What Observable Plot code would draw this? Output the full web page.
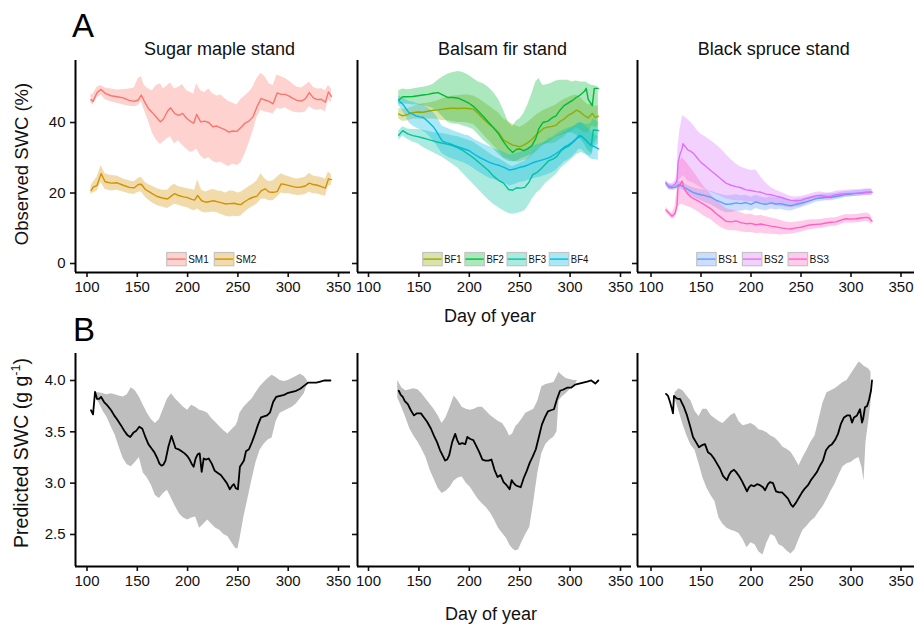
<!DOCTYPE html>
<html><head><meta charset="utf-8">
<script src="https://cdn.jsdelivr.net/npm/d3@7"></script>
<script src="https://cdn.jsdelivr.net/npm/@observablehq/plot@0.6"></script>
<style>
html,body{margin:0;padding:0;background:#fff;}
#chart{position:relative;width:918px;height:627px;overflow:hidden;background:#fff;}
#chart > svg{position:absolute;}
</style></head><body><div id="chart"></div>
<script>
// ---------- tick labels & text ----------
const xTicks = [100, 150, 200, 250, 300, 350];
const topYTicks = [0, 20, 40];
const botYTicks = [2.5, 3.0, 3.5, 4.0];
const standTitles = ["Sugar maple stand", "Balsam fir stand", "Black spruce stand"];
const seriesColor = {SM1:"#F8766D", SM2:"#D39200", BF1:"#93AA00", BF2:"#00BA38", BF3:"#00C19F", BF4:"#00B9E3", BS1:"#619CFF", BS2:"#DB72FB", BS3:"#FF61C3"};

// ---------- Observed SWC (%) ----------
const sm1Day = [104,106,110,114,118,124,130,136,142,147,151,154,157,161,165,169,173,176,180,183,187,191,195,199,203,206,209,213,217,221,225,229,233,237,241,245,249,253,257,261,265,269,273,277,281,285,289,293,297,301,305,309,313,317,321,325,329,333,337,340,343];
const sm1Mean = [46.5,46.0,48.5,49.4,48.3,47.6,47.3,47.0,46.3,46.0,46.4,47.8,46.0,44.0,42.8,41.5,40.2,41.0,43.2,44.2,42.6,42.0,42.6,41.2,40.3,39.8,42.3,40.2,40.4,40.0,38.8,39.0,38.5,38.0,37.3,37.6,37.5,38.6,39.8,40.4,41.6,44.5,46.8,46.4,46.0,45.3,48.4,48.0,48.0,47.5,46.8,46.3,46.1,46.7,48.5,47.0,46.5,46.6,45.8,48.7,47.4];
const sm1Hi = [48.0,48.0,50.0,50.5,49.8,49.5,49.2,49.3,49.5,49.8,52.5,53.0,50.5,49.5,49.0,50.5,51.0,49.5,50.5,51.2,49.5,50.0,50.8,49.0,48.5,48.0,51.0,49.0,48.5,49.5,48.2,47.5,47.8,46.8,46.0,45.5,45.0,46.5,47.5,48.5,50.0,52.5,54.0,53.0,51.0,50.5,53.5,53.0,52.5,51.8,50.8,50.0,49.8,50.5,51.5,50.0,49.5,49.6,49.0,50.5,49.5];
const sm1Lo = [45.5,45.0,47.0,47.8,46.5,45.8,45.5,45.0,44.6,44.5,44.8,46.0,43.5,40.5,37.0,35.0,33.8,34.5,35.5,36.0,34.0,34.8,33.5,32.5,31.5,31.8,32.5,30.5,29.5,30.0,29.0,28.5,28.8,28.0,27.5,28.2,27.8,28.5,31.0,34.0,37.5,41.5,43.5,43.0,42.8,42.5,44.0,43.8,44.2,43.5,43.0,42.8,42.8,43.0,44.5,43.8,43.5,43.7,43.0,46.5,45.5];

const sm2Day = [104,106,110,114,118,124,130,136,142,147,151,154,158,162,166,170,175,180,184,187,191,196,200,204,207,210,214,218,222,226,230,234,238,242,246,250,253,257,261,265,269,273,277,281,285,289,293,297,301,305,309,313,317,321,325,329,333,337,340,343];
const sm2Mean = [20.7,21.6,22.2,25.5,23.2,22.8,22.9,22.2,21.6,21.5,22.4,22.5,21.0,20.3,19.6,19.0,18.6,18.3,19.2,19.8,19.3,18.9,18.7,18.2,18.0,19.3,17.8,17.4,17.6,17.8,17.5,17.2,16.9,17.0,17.1,16.8,16.7,17.6,18.3,18.8,19.1,20.6,21.2,20.3,20.2,20.4,22.6,22.4,22.1,21.8,21.6,21.7,22.0,22.8,22.4,22.2,21.8,21.4,24.0,23.8];
const sm2Hi = [22.0,23.0,24.5,27.8,25.5,25.0,24.8,24.0,23.5,23.2,24.2,24.5,23.0,22.3,21.8,21.2,20.8,20.8,22.0,22.5,21.8,21.5,21.2,21.0,20.8,23.8,20.8,20.3,20.8,21.0,20.6,20.4,20.0,20.6,20.5,20.0,20.2,21.0,21.8,22.5,23.5,25.5,24.0,23.2,23.5,24.5,25.5,25.0,24.6,24.2,24.0,24.2,24.5,25.6,24.8,24.6,24.4,24.0,26.0,25.2];
const sm2Lo = [19.5,20.0,20.5,23.0,21.0,20.6,20.8,20.3,19.8,19.6,20.2,20.3,18.8,17.8,17.0,16.4,16.0,15.6,16.3,16.8,16.5,16.0,15.8,15.2,15.0,15.5,14.6,14.3,14.5,14.6,14.3,13.8,13.4,13.2,13.4,13.3,13.5,14.6,15.5,16.2,16.8,18.2,18.3,17.8,17.8,18.8,20.0,19.8,19.8,19.5,19.3,19.4,19.6,20.2,19.8,19.7,19.4,19.0,22.0,22.2];

const bf1Day = [130,134,139,144,149,154,159,164,169,174,179,184,189,194,199,204,209,214,219,224,229,234,239,243,247,250,254,258,262,266,270,274,278,282,286,290,294,298,302,306,310,314,318,322,325,328];
const bf1Mean = [42.4,41.9,42.3,42.8,43.0,42.9,43.2,43.5,43.6,43.8,44.0,44.1,44.0,44.1,44.0,43.8,42.5,41.0,39.7,38.5,37.2,35.0,34.2,33.6,33.4,33.1,33.6,34.3,35.2,36.4,37.4,38.4,38.7,38.9,39.2,40.3,41.0,42.0,42.6,43.5,43.0,42.0,41.3,42.6,41.4,41.8];
const bf1Hi = [44.0,43.8,44.0,44.5,45.0,45.3,45.5,45.8,46.2,46.8,47.2,47.5,47.6,47.8,47.8,47.5,46.8,45.8,44.8,43.8,42.8,41.0,40.2,39.5,39.0,38.6,39.2,40.0,41.0,42.0,42.8,43.5,44.0,44.5,45.0,45.8,46.5,47.0,47.5,47.8,47.2,46.0,45.0,45.5,44.5,44.8];
const bf1Lo = [41.0,40.3,40.5,41.0,41.0,40.8,41.0,41.0,40.8,40.5,40.5,40.2,40.0,40.0,39.8,39.5,38.2,36.5,35.0,33.5,32.0,30.0,29.5,29.0,28.8,28.8,29.2,29.5,30.5,31.5,32.5,33.8,34.0,34.0,34.3,35.2,35.8,37.0,37.6,38.5,38.0,37.2,37.0,39.0,38.5,39.0];

const bf2Day = [130,134,139,144,149,154,159,164,169,174,179,184,189,194,199,204,209,214,219,224,229,234,239,243,247,250,254,258,262,266,269,273,278,282,286,290,294,298,302,306,310,314,316,318,322,324,328];
const bf2Mean = [46.4,47.3,47.3,47.4,47.6,47.8,48.0,48.3,48.5,47.8,47.1,47.1,46.9,46.3,45.6,44.6,43.2,41.7,40.1,38.5,36.8,34.5,32.6,31.5,32.4,32.5,32.0,32.6,33.4,35.5,38.3,40.0,40.4,41.3,41.9,43.5,44.8,45.5,46.2,47.1,47.8,48.8,49.7,46.6,44.8,49.7,49.7];
const bf2Hi = [49.0,49.5,49.3,49.5,49.8,50.0,50.3,50.8,52.0,53.0,53.8,54.2,54.5,54.2,53.5,52.5,51.5,51.0,50.0,48.5,46.5,43.5,40.0,38.8,40.5,41.0,42.5,45.0,48.0,51.5,52.5,50.5,50.8,51.2,51.8,52.0,52.0,52.0,51.5,51.8,51.5,51.5,51.4,51.0,50.5,50.5,50.0];
const bf2Lo = [45.0,45.3,45.2,45.0,45.0,44.8,44.5,44.0,43.0,41.5,40.0,39.6,39.5,39.0,38.6,38.0,36.5,35.0,33.8,32.5,31.0,29.8,29.0,28.8,29.0,29.5,30.0,30.5,31.0,32.0,33.0,33.5,34.2,35.0,35.8,36.2,36.6,37.0,37.0,36.5,35.5,34.0,33.0,32.0,31.0,34.0,36.0];

const bf3Day = [130,134,139,144,149,154,159,164,169,174,179,184,189,194,199,204,209,214,219,224,229,234,239,243,247,251,255,259,263,267,271,275,279,283,287,291,295,299,303,307,311,315,319,321,323,326,328];
const bf3Mean = [36.4,37.7,36.8,36.3,36.0,35.6,35.2,34.8,34.4,34.1,33.8,33.4,32.8,32.0,31.0,30.0,28.8,27.6,26.4,24.8,23.6,22.8,21.0,20.8,21.5,21.4,21.6,23.0,25.2,25.8,26.8,28.0,29.2,29.6,30.4,32.0,32.8,33.4,34.4,35.6,36.2,35.2,34.0,33.4,37.9,37.8,37.7];
const bf3Hi = [37.5,38.8,38.2,38.0,38.0,37.8,37.5,37.2,37.0,36.8,36.5,36.2,36.0,35.5,35.0,34.5,33.5,32.5,31.5,30.5,29.8,29.0,28.0,27.5,28.0,28.5,29.0,30.0,31.5,32.5,33.5,34.5,35.5,36.0,36.8,37.5,38.0,38.5,38.8,39.5,40.0,39.5,39.5,40.0,41.0,40.5,40.0];
const bf3Lo = [35.0,36.2,35.2,34.5,34.0,33.0,32.2,31.5,30.8,30.0,29.0,28.0,27.0,25.5,24.0,22.5,21.0,19.5,18.0,16.8,15.8,15.0,14.2,14.0,14.2,14.5,15.0,16.5,18.5,20.0,21.0,22.5,23.5,24.5,25.5,27.0,28.0,29.0,30.0,31.0,31.5,31.0,30.5,30.5,33.0,33.5,34.0];

const bf4Day = [130,134,137,140,144,147,151,154,157,160,164,167,170,173,177,180,185,190,195,200,205,210,215,220,225,230,235,240,245,250,255,260,265,270,275,280,285,290,294,298,302,306,309,312,316,319,322,325,328];
const bf4Mean = [46.2,45.2,44.0,42.9,42.4,41.9,41.6,41.5,40.8,40.0,38.9,37.7,36.2,34.8,34.3,34.1,33.5,33.0,32.5,32.0,31.0,30.1,29.4,28.7,28.2,27.8,27.2,26.5,26.8,27.3,27.6,28.2,28.8,29.2,29.6,30.1,31.0,32.0,33.0,33.6,34.4,35.4,36.3,36.0,34.8,34.0,33.4,33.0,32.5];
const bf4Hi = [47.5,47.0,46.5,46.0,45.8,45.5,45.2,45.0,44.5,44.0,43.0,42.0,40.5,39.0,38.5,38.2,37.5,37.0,36.5,36.2,35.2,34.5,33.8,33.2,32.5,32.0,31.5,30.8,31.0,31.5,32.0,32.8,33.5,34.0,34.5,35.0,35.8,36.5,37.2,37.8,38.6,39.4,40.0,39.8,38.8,38.0,37.2,36.5,35.8];
const bf4Lo = [44.8,43.2,41.8,40.0,39.0,38.5,38.0,37.5,37.0,36.2,35.0,33.8,32.5,31.2,30.5,30.0,29.5,29.0,28.5,27.8,26.8,25.8,25.0,24.2,23.8,23.2,22.8,22.0,22.4,23.0,23.2,23.8,24.2,24.5,25.0,25.5,26.2,27.5,28.8,29.4,30.2,31.4,32.5,32.2,31.0,30.0,29.5,29.5,29.2];

const bs1Day = [115,118,121,124,128,131,134,138,142,146,150,155,160,165,170,175,180,185,190,195,200,205,210,215,220,225,230,235,240,245,250,255,260,265,270,275,280,285,290,295,300,305,310,315,321];
const bs1Mean = [22.8,21.6,21.5,21.6,22.4,22.0,21.5,20.8,20.2,19.8,19.5,19.2,18.8,18.0,17.4,16.8,16.9,17.2,17.0,17.3,16.8,17.5,17.0,16.8,17.2,16.9,17.0,16.6,16.4,16.8,17.1,17.5,17.9,18.4,18.6,18.8,18.8,19.0,19.3,19.6,19.7,19.9,20.0,20.2,20.2];
const bs1Hi = [23.5,22.5,22.3,22.5,23.3,23.0,22.6,22.0,21.5,21.2,21.0,20.8,20.5,20.0,19.6,19.2,19.3,19.5,19.2,19.4,18.8,19.4,18.9,18.6,18.9,18.6,18.6,18.2,17.9,18.2,18.4,18.7,19.0,19.4,19.6,19.8,19.8,19.9,20.2,20.4,20.5,20.7,20.8,21.0,21.0];
const bs1Lo = [22.0,20.8,20.7,20.8,21.5,21.0,20.4,19.6,18.8,18.3,17.8,17.2,16.6,15.8,15.0,14.4,14.4,14.8,14.8,15.2,14.8,15.6,15.2,15.0,15.5,15.2,15.4,15.0,14.9,15.4,15.8,16.3,16.8,17.4,17.6,17.8,17.8,18.1,18.4,18.8,18.9,19.1,19.2,19.4,19.4];

const bs2Day = [115,118,121,124,126,127,129,131,132,134,137,140,143,146,150,155,160,165,170,175,180,185,190,195,200,205,210,215,220,225,230,235,240,245,250,255,260,265,270,275,280,285,290,295,300,305,310,315,321];
const bs2Mean = [22.8,22.0,21.8,22.5,23.5,28.5,31.0,32.5,34.0,33.2,32.2,31.8,31.1,30.0,28.7,27.5,26.3,25.2,24.0,22.8,22.2,21.8,21.5,20.9,20.7,20.4,20.2,19.7,19.5,19.1,18.8,18.3,17.9,17.8,17.9,18.4,18.8,19.2,19.3,19.0,19.1,19.5,19.7,19.8,19.9,19.9,20.0,20.1,20.2];
const bs2Hi = [23.5,22.8,22.6,23.5,25.0,33.0,38.0,41.0,42.0,41.5,40.8,40.0,39.0,37.8,36.7,35.8,34.8,33.8,32.5,31.0,29.5,28.2,27.3,26.8,26.4,26.5,24.5,22.8,21.6,20.8,20.2,19.6,19.0,18.9,19.0,19.4,19.8,20.2,20.3,20.0,20.1,20.5,20.7,20.8,20.9,20.9,21.0,21.2,21.2];
const bs2Lo = [22.0,21.2,21.0,21.5,22.0,23.0,24.0,24.5,25.0,24.5,23.5,23.0,22.8,22.2,21.5,20.8,20.2,19.6,19.0,18.4,18.0,17.8,17.8,17.6,17.5,17.2,17.0,16.8,16.7,16.4,16.2,16.0,15.9,16.0,16.2,16.9,17.5,18.0,18.2,18.0,18.1,18.6,18.8,18.9,19.0,19.0,19.1,19.2,19.3];

const bs3Day = [115,118,121,124,126,127,129,131,133,136,140,144,148,152,156,160,165,170,175,180,185,190,195,200,205,210,215,220,225,230,235,240,245,250,255,260,265,270,275,280,285,290,295,300,305,310,315,318,321];
const bs3Mean = [15.2,14.3,13.4,14.2,16.5,21.5,22.4,23.4,21.4,20.0,18.8,18.2,17.6,16.9,16.2,15.5,14.2,13.1,12.0,11.8,12.1,11.6,11.3,11.4,11.0,11.2,10.9,10.6,10.4,10.1,9.9,9.8,10.1,10.3,10.7,11.0,11.1,11.2,11.5,11.7,11.8,12.3,12.7,12.6,12.7,12.9,13.1,13.0,12.0];
const bs3Hi = [16.0,15.0,14.2,16.0,21.0,27.0,29.0,30.0,29.5,28.5,27.0,25.5,23.8,22.2,20.8,19.5,18.0,16.8,15.6,15.2,15.0,14.4,13.9,14.0,13.5,13.6,13.3,12.9,12.6,12.2,11.8,11.6,11.8,11.9,12.2,12.4,12.4,12.5,12.8,12.9,13.0,13.5,13.9,13.8,13.9,14.1,14.3,14.2,13.2];
const bs3Lo = [14.4,13.5,12.6,13.0,14.5,16.0,16.5,16.8,16.5,16.2,15.8,15.2,14.5,13.6,13.0,12.4,11.2,10.2,9.6,9.3,9.3,9.0,8.8,8.8,8.5,8.6,8.4,8.3,8.2,8.1,8.2,8.3,8.6,8.9,9.3,9.6,9.8,9.9,10.2,10.5,10.6,11.1,11.5,11.4,11.5,11.7,11.9,11.8,10.9];

// ---------- Predicted SWC (g g-1) ----------
const pSmDay = [104,106,108,110,112,114,117,120,124,127,130,134,137,140,143,146,149,152,155,158,161,164,167,170,172,174,176,178,181,184,186,188,191,194,197,200,202,204,206,208,210,212,214,216,218,221,224,227,230,233,236,239,242,244,246,248,250,252,254,256,258,261,264,267,270,273,276,279,282,285,288,292,296,300,304,308,312,316,320,324,328,332,336,340,342];
const pSmMean = [3.71,3.67,3.89,3.82,3.82,3.84,3.79,3.76,3.71,3.66,3.62,3.56,3.51,3.47,3.45,3.49,3.51,3.55,3.53,3.45,3.38,3.34,3.30,3.24,3.19,3.17,3.18,3.22,3.36,3.46,3.40,3.34,3.33,3.31,3.29,3.26,3.23,3.19,3.16,3.24,3.28,3.29,3.11,3.24,3.23,3.24,3.19,3.12,3.10,3.08,3.04,3.00,2.94,2.97,2.99,2.95,2.94,3.16,3.19,3.22,3.31,3.33,3.40,3.48,3.57,3.64,3.65,3.66,3.69,3.79,3.84,3.85,3.86,3.88,3.89,3.90,3.92,3.95,3.98,3.98,3.98,3.99,4.00,4.00,4.00];
const pSmBandDay = [108,112,116,120,124,128,132,136,140,144,148,152,156,160,164,168,172,176,180,184,188,192,196,200,204,208,212,216,220,224,228,232,236,240,244,248,250,252,256,260,264,268,272,276,280,284,288,292,296,300,304,308,312,316,319];
const pSmHi = [3.88,3.88,3.87,3.86,3.87,3.86,3.85,3.84,3.86,3.93,3.90,3.84,3.76,3.68,3.62,3.58,3.62,3.72,3.82,3.87,3.82,3.78,3.74,3.71,3.76,3.74,3.71,3.70,3.68,3.63,3.59,3.55,3.51,3.48,3.52,3.56,3.60,3.68,3.74,3.78,3.82,3.88,3.94,3.98,4.02,4.05,4.03,4.00,3.99,4.00,4.02,4.04,4.06,4.04,4.00];
const pSmLo = [3.84,3.78,3.70,3.64,3.55,3.47,3.35,3.24,3.18,3.16,3.20,3.25,3.10,3.05,2.98,2.88,2.85,2.90,2.93,2.85,2.77,2.70,2.66,2.64,2.66,2.67,2.56,2.60,2.64,2.60,2.56,2.54,2.50,2.48,2.42,2.36,2.36,2.45,2.67,2.85,3.03,3.20,3.32,3.38,3.42,3.44,3.60,3.68,3.70,3.72,3.74,3.77,3.82,3.87,3.96];

const pBfDay = [130,132,134,136,139,142,145,148,152,155,158,162,165,168,171,174,176,178,180,183,186,188,190,193,196,198,201,204,207,210,213,216,219,222,225,228,231,234,237,240,242,244,246,248,251,254,257,260,263,266,269,272,275,278,281,284,287,290,293,297,301,305,309,313,317,321,325,328];
const pBfMean = [3.90,3.86,3.84,3.80,3.77,3.71,3.66,3.68,3.68,3.64,3.60,3.53,3.46,3.40,3.32,3.26,3.22,3.23,3.27,3.40,3.48,3.42,3.38,3.39,3.38,3.45,3.43,3.42,3.36,3.30,3.23,3.22,3.22,3.23,3.13,3.06,3.08,3.01,2.98,2.94,3.03,3.00,2.98,2.97,2.96,3.05,3.12,3.20,3.26,3.33,3.45,3.57,3.64,3.70,3.71,3.72,3.82,3.90,3.91,3.93,3.93,3.96,3.97,3.98,3.99,4.00,3.97,4.00];
const pBfBandDay = [129,133,137,141,145,149,153,157,161,165,169,173,177,181,185,189,193,197,201,205,209,213,217,221,225,229,233,237,240,243,246,249,252,256,260,264,268,272,276,280,284,287,289,292,296,300,304,307];
const pBfHi = [4.00,3.93,3.90,3.91,3.92,3.91,3.87,3.82,3.77,3.72,3.66,3.58,3.64,3.74,3.85,3.80,3.74,3.72,3.71,3.72,3.74,3.74,3.70,3.66,3.63,3.60,3.58,3.52,3.46,3.48,3.55,3.58,3.62,3.68,3.70,3.72,3.80,3.94,3.96,3.97,3.98,4.04,4.08,4.05,4.02,4.01,4.00,4.00];
const pBfLo = [3.83,3.74,3.64,3.53,3.46,3.40,3.33,3.25,3.13,3.04,2.95,2.90,2.92,2.96,3.02,3.05,3.06,3.00,2.96,2.90,2.84,2.80,2.76,2.71,2.64,2.56,2.51,2.46,2.40,2.36,2.34,2.35,2.42,2.50,2.57,2.82,3.10,3.29,3.38,3.42,3.45,3.50,3.80,3.84,3.87,3.91,3.95,3.99];

const pBsDay = [115,117,119,121,122,123,125,127,129,131,133,136,139,142,145,148,151,154,157,160,163,166,169,172,174,176,178,180,183,185,188,191,194,196,198,200,203,206,209,212,214,217,219,222,225,228,231,234,237,240,242,245,248,251,254,257,260,263,266,269,272,275,278,281,284,287,290,293,296,299,301,303,306,309,311,312,314,316,318,320,321];
const pBsMean = [3.87,3.85,3.79,3.72,3.68,3.85,3.83,3.82,3.82,3.78,3.74,3.66,3.56,3.45,3.40,3.35,3.37,3.38,3.30,3.28,3.24,3.19,3.14,3.07,3.05,3.03,3.08,3.11,3.13,3.11,3.07,3.02,2.96,2.92,2.96,2.98,2.97,2.99,2.98,2.96,2.93,2.99,3.01,3.00,2.92,2.91,2.91,2.88,2.85,2.79,2.77,2.81,2.86,2.91,2.95,2.98,3.03,3.07,3.11,3.17,3.22,3.32,3.36,3.38,3.42,3.48,3.58,3.64,3.66,3.66,3.59,3.64,3.66,3.72,3.59,3.62,3.74,3.75,3.81,3.90,4.00];
const pBsBandDay = [124,128,132,136,140,144,148,152,156,160,164,168,172,176,180,184,188,192,196,200,204,208,212,216,220,224,228,232,236,240,244,248,252,256,260,264,268,272,276,280,284,288,292,296,300,304,308,311,313,315,318,320];
const pBsHi = [3.88,3.92,3.90,3.85,3.80,3.70,3.65,3.72,3.72,3.66,3.63,3.60,3.58,3.62,3.66,3.68,3.60,3.56,3.57,3.58,3.56,3.52,3.51,3.49,3.46,3.44,3.40,3.35,3.33,3.30,3.24,3.17,3.25,3.32,3.40,3.46,3.62,3.78,3.88,3.90,3.92,3.95,3.98,4.00,4.06,4.12,4.18,4.16,4.14,4.13,4.11,4.08];
const pBsLo = [3.82,3.70,3.57,3.46,3.37,3.32,3.19,3.05,2.95,2.88,2.82,2.66,2.60,2.56,2.54,2.53,2.51,2.45,2.37,2.42,2.40,2.33,2.30,2.42,2.50,2.48,2.40,2.38,2.34,2.31,2.35,2.45,2.54,2.58,2.63,2.66,2.72,2.77,2.84,2.92,2.99,3.08,3.16,3.19,3.20,3.23,3.25,3.15,3.02,3.40,3.62,3.78];

// ---------- build tables ----------
const FONT = "'Liberation Sans', Arial, Helvetica, sans-serif";
const BAND_ALPHA = 0.33;
const table = (day, v) => day.map((d, i) => ({day: d, v: v[i]}));
const band = (day, lo, hi) => day.map((d, i) => ({day: d, lo: lo[i], hi: hi[i]}));

const observed = [
  [{key:"SM1", day:sm1Day, mean:sm1Mean, lo:sm1Lo, hi:sm1Hi}, {key:"SM2", day:sm2Day, mean:sm2Mean, lo:sm2Lo, hi:sm2Hi}],
  [{key:"BF1", day:bf1Day, mean:bf1Mean, lo:bf1Lo, hi:bf1Hi}, {key:"BF2", day:bf2Day, mean:bf2Mean, lo:bf2Lo, hi:bf2Hi},
   {key:"BF3", day:bf3Day, mean:bf3Mean, lo:bf3Lo, hi:bf3Hi}, {key:"BF4", day:bf4Day, mean:bf4Mean, lo:bf4Lo, hi:bf4Hi}],
  [{key:"BS1", day:bs1Day, mean:bs1Mean, lo:bs1Lo, hi:bs1Hi}, {key:"BS2", day:bs2Day, mean:bs2Mean, lo:bs2Lo, hi:bs2Hi},
   {key:"BS3", day:bs3Day, mean:bs3Mean, lo:bs3Lo, hi:bs3Hi}]
];
const predicted = [
  {day:pSmDay, mean:pSmMean, bday:pSmBandDay, lo:pSmLo, hi:pSmHi},
  {day:pBfDay, mean:pBfMean, bday:pBfBandDay, lo:pBfLo, hi:pBfHi},
  {day:pBsDay, mean:pBsMean, bday:pBsBandDay, lo:pBsLo, hi:pBsHi}
];

// ---------- layout ----------
const chart = document.getElementById("chart");
const columns = [
  {left:0,   width:360, mr:10, xd:[88.57, 361.93]},
  {left:282, width:360, mr:11, xd:[89.09, 360.91]},
  {left:562, width:356, mr:4,  xd:[86.5, 363.5]}
];
const rowsCfg = [
  {top:0,   mb:28, yd:[-2.55, 57.6], ticks:topYTicks, fmt: d => String(d)},
  {top:293, mb:27, yd:[2.188, 4.263], ticks:botYTicks, fmt: d3.format(".1f")}
];

function panel(ci, ri, marks) {
  const col = columns[ci], row = rowsCfg[ri];
  const svg = Plot.plot({
    width: col.width, height: 300,
    marginLeft: 75, marginRight: col.mr, marginTop: 60, marginBottom: row.mb,
    x: {domain: col.xd}, y: {domain: row.yd},
    style: {fontFamily: FONT, background: "transparent", overflow: "visible", color: "#111"},
    marks: [
      ...marks,
      Plot.axisX({ticks: xTicks, tickSize: 5, tickPadding: 4, fontSize: 15, strokeWidth: 1.6, label: null, tickFormat: d => String(d)}),
      Plot.axisY({ticks: row.ticks, tickSize: 5, tickPadding: 5, fontSize: 15, strokeWidth: 1.6, label: null, tickFormat: ci === 0 ? row.fmt : () => ""}),
      Plot.ruleX([col.xd[0]], {stroke: "#000", strokeWidth: 2}),
      Plot.ruleY([row.yd[0]], {stroke: "#000", strokeWidth: 2})
    ]
  });
  svg.style.left = col.left + "px";
  svg.style.top = row.top + "px";
  chart.appendChild(svg);
}

observed.forEach((group, ci) => {
  const marks = [];
  group.forEach(s => marks.push(Plot.areaY(band(s.day, s.lo, s.hi), {x: "day", y1: "lo", y2: "hi", fill: seriesColor[s.key], fillOpacity: BAND_ALPHA})));
  group.forEach(s => marks.push(Plot.lineY(table(s.day, s.mean), {x: "day", y: "v", stroke: seriesColor[s.key], strokeWidth: 1.4})));
  panel(ci, 0, marks);
});
predicted.forEach((p, ci) => {
  panel(ci, 1, [
    Plot.areaY(band(p.bday, p.lo, p.hi), {x: "day", y1: "lo", y2: "hi", fill: "#bebebe"}),
    Plot.lineY(table(p.day, p.mean), {x: "day", y: "v", stroke: "#000", strokeWidth: 1.8})
  ]);
});

// ---------- overlay text & legends ----------
const ov = d3.create("svg").attr("width", 918).attr("height", 627)
  .style("left", "0px").style("top", "0px").style("font-family", FONT).style("pointer-events", "none");
ov.append("text").attr("x", 72).attr("y", 37).attr("font-size", 33).attr("fill", "#000").text("A");
ov.append("text").attr("x", 73).attr("y", 341).attr("font-size", 33).attr("fill", "#000").text("B");
const titleX = [219.5, 502.5, 773.7];
standTitles.forEach((t, i) => ov.append("text").attr("x", titleX[i]).attr("y", 55).attr("text-anchor", "middle").attr("font-size", 18).attr("fill", "#111").text(t));
ov.append("text").attr("x", 490).attr("y", 322).attr("text-anchor", "middle").attr("font-size", 18).attr("fill", "#111").text("Day of year");
ov.append("text").attr("x", 491).attr("y", 620).attr("text-anchor", "middle").attr("font-size", 18).attr("fill", "#111").text("Day of year");
ov.append("text").attr("transform", "translate(27.5,164) rotate(-90)").attr("text-anchor", "middle").attr("font-size", 18.5).attr("fill", "#111").text("Observed SWC (%)");
const yl = ov.append("text").attr("transform", "translate(27.5,453) rotate(-90)").attr("text-anchor", "middle").attr("font-size", 19.5).attr("fill", "#111");
yl.append("tspan").text("Predicted SWC (g g");
yl.append("tspan").attr("font-size", 12.5).attr("dy", -8).text("-1");
yl.append("tspan").attr("dy", 8).text(")");

const legendCfg = [{x0:166.7, step:47.6, tw:20.5}, {x0:422.7, step:42.2, tw:17.5}, {x0:696.7, step:45.7, tw:19.5}];
observed.forEach((group, ci) => {
  const cfg = legendCfg[ci];
  group.forEach((s, i) => {
    const x = cfg.x0 + i * cfg.step;
    const c = seriesColor[s.key];
    ov.append("rect").attr("x", x).attr("y", 252.5).attr("width", 19.5).attr("height", 13.2)
      .attr("fill", "#fff");
    ov.append("rect").attr("x", x).attr("y", 252.5).attr("width", 19.5).attr("height", 13.2)
      .attr("fill", c).attr("fill-opacity", BAND_ALPHA).attr("stroke", "#c4c4c4").attr("stroke-width", 1.2);
    ov.append("line").attr("x1", x + 0.6).attr("x2", x + 18.9).attr("y1", 259.1).attr("y2", 259.1)
      .attr("stroke", c).attr("stroke-width", 1.4);
    ov.append("text").attr("x", x + 21.5).attr("y", 263).attr("font-size", 11).attr("fill", "#111")
      .attr("textLength", cfg.tw).attr("lengthAdjust", "spacingAndGlyphs").text(s.key);
  });
});
chart.appendChild(ov.node());
</script></body></html>
